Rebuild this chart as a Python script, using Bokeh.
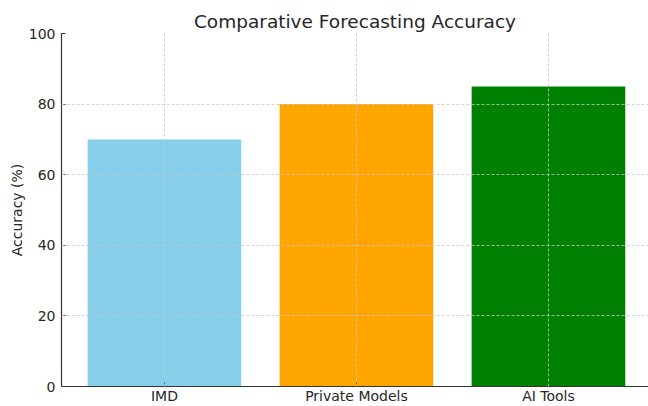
from bokeh.plotting import figure
from bokeh.models import Range1d, FixedTicker, ColumnDataSource
from bokeh.embed import file_html
from bokeh.resources import INLINE

categories = ["IMD", "Private Models", "AI Tools"]
accuracy = [70, 80, 85]
colors = ["#87CEEB", "#FFA500", "#008000"]
y_ticks = [0, 20, 40, 60, 80, 100]

xs = list(range(len(categories)))
source = ColumnDataSource(dict(x=xs, top=accuracy, color=colors, cat=categories))

FONT = "DejaVu Sans"
TEXT = "#262626"

p = figure(width=648, height=406, output_backend="svg", toolbar_location=None,
           x_range=Range1d(-0.536, 2.521), y_range=Range1d(0, 100),
           title="Comparative Forecasting Accuracy",
           min_border_left=61, min_border_right=0, min_border_top=33, min_border_bottom=18)

p.vbar(x="x", top="top", width=0.8, bottom=0, color="color", source=source,
       line_color=None)

p.title.text_font = FONT
p.title.text_font_size = "18.5px"
p.title.text_font_style = "normal"
p.title.text_color = TEXT
p.title.align = "center"
p.title.offset = 5
p.title.standoff = 4

p.outline_line_color = None

for ax in (p.xaxis, p.yaxis):
    ax.axis_line_color = "#333333"
    ax.axis_line_width = 1.2
    ax.major_tick_line_color = "#333333"
    ax.major_tick_out = 0
    ax.major_tick_in = 4
    ax.minor_tick_line_color = None
    ax.major_label_text_font = FONT
    ax.major_label_text_font_size = "14px"
    ax.major_label_text_color = TEXT

p.xaxis.major_label_standoff = 1
p.yaxis.major_label_standoff = 6

p.xaxis.ticker = FixedTicker(ticks=xs)
p.xaxis.major_label_overrides = {i: c for i, c in enumerate(categories)}
p.yaxis.ticker = FixedTicker(ticks=y_ticks)

p.yaxis.axis_label = "Accuracy (%)"
p.yaxis.axis_label_text_font = FONT
p.yaxis.axis_label_text_font_size = "14px"
p.yaxis.axis_label_text_font_style = "normal"
p.yaxis.axis_label_text_color = TEXT
p.yaxis.axis_label_standoff = 1

for g in (p.xgrid, p.ygrid):
    g.grid_line_color = "#c8c8c8"
    g.grid_line_width = 0.8
    g.grid_line_dash = "3 2"
    g.level = "guide"

open("out.html", "w").write(file_html(p, INLINE))
